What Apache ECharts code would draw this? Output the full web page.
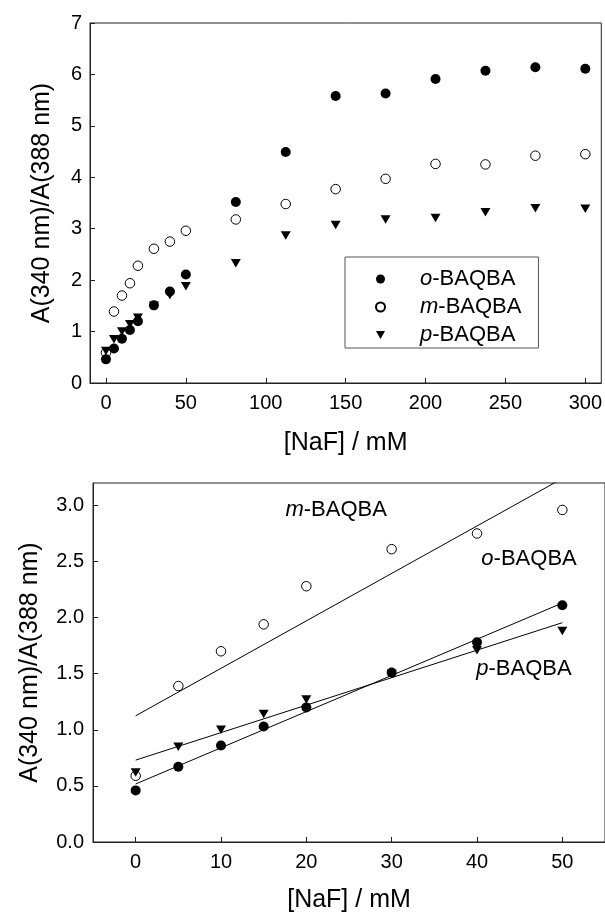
<!DOCTYPE html>
<html>
<head>
<meta charset="utf-8">
<script src="https://cdn.jsdelivr.net/npm/echarts@6/dist/echarts.min.js"></script>
<style>
html,body{margin:0;padding:0;background:#fff;}
#c{width:605px;height:915px;}
</style>
</head>
<body>
<div id="c"></div>
<script>
// ---- data ----
const naf = [0, 5, 10, 15, 20, 30, 40, 50, 81.25, 112.5, 143.75, 175, 206.25, 237.5, 268.75, 300];
const oBAQBA = [0.46, 0.67, 0.86, 1.03, 1.20, 1.51, 1.78, 2.11, 3.52, 4.49, 5.58, 5.63, 5.91, 6.07, 6.14, 6.11];
const mBAQBA = [0.59, 1.39, 1.70, 1.94, 2.28, 2.61, 2.75, 2.96, 3.18, 3.48, 3.77, 3.97, 4.26, 4.25, 4.42, 4.45];
const pBAQBA = [0.62, 0.85, 1.00, 1.14, 1.27, 1.50, 1.71, 1.88, 2.33, 2.87, 3.07, 3.18, 3.21, 3.32, 3.40, 3.39];

const nafLow = [0, 5, 10, 15, 20, 30, 40, 50];
const oLow = [0.46, 0.67, 0.86, 1.03, 1.20, 1.51, 1.78, 2.11];
const mLow = [0.59, 1.39, 1.70, 1.94, 2.28, 2.61, 2.75, 2.96];
const pLow = [0.62, 0.85, 1.00, 1.14, 1.27, 1.50, 1.71, 1.88];

// fitted straight lines (end points)
const fitX = [0, 50];
const oFit = [0.517, 2.13];
const mFit = [1.125, 3.24];
const pFit = [0.73, 1.955];

// annotations in the lower panel
const annText = ['m', 'o', 'p'];
const annX = [23.5, 46.1, 45.5];
const annY = [2.96, 2.52, 1.54];

// tick labels
const topXTicks = [0, 50, 100, 150, 200, 250, 300];
const topYTicks = [0, 1, 2, 3, 4, 5, 6, 7];
const lowXTicks = [0, 10, 20, 30, 40, 50];
const lowYTicks = [0, 0.5, 1.0, 1.5, 2.0, 2.5, 3.0];

const seriesNames = ['o-BAQBA', 'm-BAQBA', 'p-BAQBA'];
// ---------------------------------------

const pair = (xs, ys) => xs.map((x, i) => [x, ys[i]]);
const FONT = 'Liberation Sans, Arial, sans-serif';
const INK = '#000';
const AX = '#222';
const TRI = 'path://M0,0L10,0L5,8.66Z';

const rich = {
  i: {fontStyle: 'italic', fontSize: 22, color: INK, fontFamily: FONT},
  n: {fontSize: 22, color: INK, fontFamily: FONT},
  pad: {width: 30}
};
function labelFor(name) {
  const k = name.split('-');
  return '{i|' + k[0] + '}{n|-' + k.slice(1).join('-') + '}';
}

function xAxis(grid, min, max, ticks, gap, margin) {
  return {
    gridIndex: grid, type: 'value', min: min, max: max,
    axisLine: {onZero: false, lineStyle: {color: AX, width: 1}},
    axisTick: {inside: true, length: 5, customValues: ticks, lineStyle: {color: AX}},
    axisLabel: {customValues: ticks, fontSize: 20, color: INK, fontFamily: FONT, margin: margin},
    splitLine: {show: false},
    name: '[NaF] / mM', nameLocation: 'middle', nameGap: gap,
    nameTextStyle: {fontSize: 25, color: INK, fontFamily: FONT}
  };
}
function yAxis(grid, min, max, ticks, gap, margin, fmt) {
  return {
    gridIndex: grid, type: 'value', min: min, max: max,
    axisLine: {onZero: false, lineStyle: {color: AX, width: 1}},
    axisTick: {inside: true, length: 5, customValues: ticks, lineStyle: {color: AX}},
    axisLabel: {customValues: ticks, fontSize: 20, color: INK, fontFamily: FONT, margin: margin, formatter: fmt},
    splitLine: {show: false},
    name: 'A(340 nm)/A(388 nm)', nameLocation: 'middle', nameGap: gap, nameRotate: 90,
    nameTextStyle: {fontSize: 25, color: INK, fontFamily: FONT}
  };
}

const filled = {color: INK, opacity: 1};
const open = {color: '#fff', borderColor: INK, borderWidth: 1, opacity: 1};

const chart = echarts.init(document.getElementById('c'), null, {renderer: 'canvas'});
chart.setOption({
  animation: false,
  backgroundColor: '#fff',
  textStyle: {fontFamily: FONT},
  grid: [
    {left: 90, top: 23, width: 514, height: 360, show: true, borderColor: AX, borderWidth: 1, backgroundColor: 'transparent'},
    {left: 93, top: 483, width: 514, height: 359, show: true, borderColor: AX, borderWidth: 1, backgroundColor: 'transparent'}
  ],
  xAxis: [
    xAxis(0, -10, 310, topXTicks, 48, 10),
    xAxis(1, -5, 55, lowXTicks, 46, 10)
  ],
  yAxis: [
    yAxis(0, 0, 7, topYTicks, 35, 8, v => String(v)),
    yAxis(1, 0, 3.2, lowYTicks, 50, 9, v => v.toFixed(1))
  ],
  legend: {
    orient: 'vertical', left: 345, top: 257,
    padding: [11, 17, 2, 30],
    itemGap: 6, itemWidth: 9, itemHeight: 9,
    borderColor: '#555', borderWidth: 1, backgroundColor: '#fff',
    data: [
      {name: seriesNames[0], icon: 'circle'},
      {name: seriesNames[1], icon: 'circle'},
      {name: seriesNames[2], icon: TRI}
    ],
    formatter: n => '{pad|}' + labelFor(n),
    textStyle: {lineHeight: 22, rich: rich}
  },
  series: [
    {name: seriesNames[1], type: 'scatter', xAxisIndex: 0, yAxisIndex: 0, data: pair(naf, mBAQBA),
      symbol: 'circle', symbolSize: 9.5, itemStyle: open},
    {name: seriesNames[2], type: 'scatter', xAxisIndex: 0, yAxisIndex: 0, data: pair(naf, pBAQBA),
      symbol: TRI, symbolSize: [10, 8.5], itemStyle: filled},
    {name: seriesNames[0], type: 'scatter', xAxisIndex: 0, yAxisIndex: 0, data: pair(naf, oBAQBA),
      symbol: 'circle', symbolSize: 10, itemStyle: filled},

    {name: 'mLow', type: 'scatter', xAxisIndex: 1, yAxisIndex: 1, data: pair(nafLow, mLow),
      symbol: 'circle', symbolSize: 9.5, itemStyle: open},
    {name: 'pLow', type: 'scatter', xAxisIndex: 1, yAxisIndex: 1, data: pair(nafLow, pLow),
      symbol: TRI, symbolSize: [10, 8.5], itemStyle: filled},
    {name: 'oLow', type: 'scatter', xAxisIndex: 1, yAxisIndex: 1, data: pair(nafLow, oLow),
      symbol: 'circle', symbolSize: 10, itemStyle: filled},

    {name: 'mFit', type: 'line', xAxisIndex: 1, yAxisIndex: 1, data: pair(fitX, mFit), clip: true,
      symbol: 'none', lineStyle: {color: INK, width: 1}},
    {name: 'oFit', type: 'line', xAxisIndex: 1, yAxisIndex: 1, data: pair(fitX, oFit), clip: true,
      symbol: 'none', lineStyle: {color: INK, width: 1}},
    {name: 'pFit', type: 'line', xAxisIndex: 1, yAxisIndex: 1, data: pair(fitX, pFit), clip: true,
      symbol: 'none', lineStyle: {color: INK, width: 1}},

    {name: 'annotations', type: 'scatter', xAxisIndex: 1, yAxisIndex: 1,
      data: annX.map((x, i) => ({value: [x, annY[i]], name: annText[i]})),
      symbolSize: 1, itemStyle: {color: 'rgba(0,0,0,0)', opacity: 1}, silent: true,
      label: {show: true, position: 'inside', color: INK, opacity: 1,
        formatter: p => '{i|' + p.name + '}{n|-BAQBA}', rich: rich}}
  ]
});
</script>
</body>
</html>
